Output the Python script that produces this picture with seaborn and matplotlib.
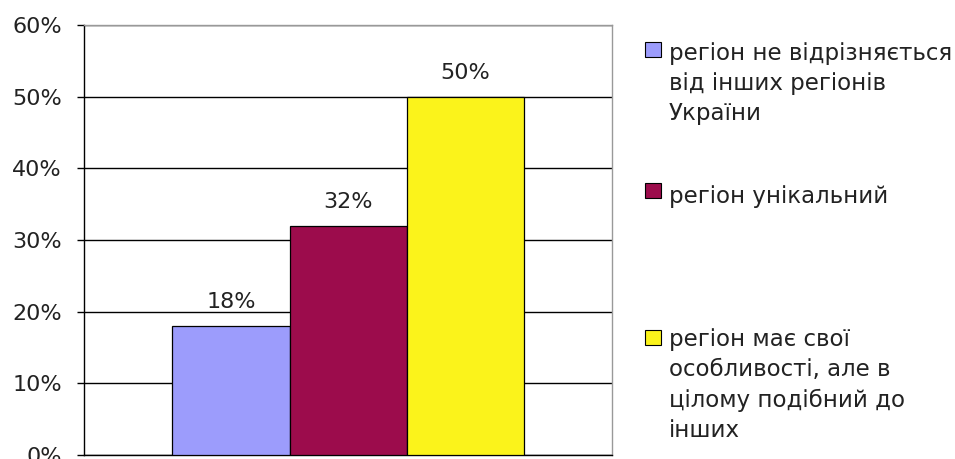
import pandas as pd
import matplotlib.pyplot as plt
import seaborn as sns
from matplotlib.patches import Rectangle

# values
labels = [
    "регіон не відрізняється\nвід інших регіонів\nУкраїни",
    "регіон унікальний",
    "регіон має свої\nособливості, але в\nцілому подібний до\nінших",
]
values = [18, 32, 50]
colors = ["#9c9cfc", "#9c0c4c", "#fbf31b"]
yticks = [0, 10, 20, 30, 40, 50, 60]

df = pd.DataFrame({"group": [""] * len(values), "label": labels, "value": values})

sns.set_style("white")
plt.rcParams["font.family"] = ["DejaVu Sans"]

fig = plt.figure(figsize=(9.55, 4.59), dpi=100)
ax = fig.add_axes([0.088, 0.0087, 0.553, 0.9368])

sns.barplot(data=df, x="group", y="value", hue="label", hue_order=labels,
            palette=colors, saturation=1, width=0.665, edgecolor="black",
            linewidth=0.9, legend=False, ax=ax, zorder=3)

for cont, v in zip(ax.containers, values):
    ax.bar_label(cont, labels=[f"{v}%"], padding=10, fontsize=16, color="#222222")

ax.set_ylim(0, 60)
ax.set_xlim(-0.5, 0.5)
ax.set_yticks(yticks)
ax.set_yticklabels([f"{t}%" for t in yticks], fontsize=16, color="#222222")
ax.set_xticks([])
ax.set_xlabel("")
ax.set_ylabel("")
ax.yaxis.grid(True, color="black", linewidth=1)
ax.set_axisbelow(True)
ax.tick_params(axis="y", direction="out", length=5, width=1, color="black", pad=11, left=True)
for side in ["left", "bottom"]:
    ax.spines[side].set_color("black")
    ax.spines[side].set_linewidth(1)
for side in ["top", "right"]:
    ax.spines[side].set_color("#999999")
    ax.spines[side].set_linewidth(1)

# legend drawn like the original: square beside the first text line
legend_base = [62, 203, 350]  # baseline of first line, in pixels from top
line_px = 29
for lab, col, ypx in zip(labels, colors, legend_base):
    fig.patches.append(Rectangle((645 / 955, 1 - (ypx - 5) / 459), 16 / 955, 15 / 459,
                                 transform=fig.transFigure, facecolor=col,
                                 edgecolor="black", linewidth=0.8))
    last = ypx + line_px * lab.count("\n")
    fig.text(669 / 955, 1 - last / 459, lab, fontsize=16.5, color="#222222",
             va="baseline", ha="left", linespacing=1.40)

fig.savefig("out.png", dpi=100)
